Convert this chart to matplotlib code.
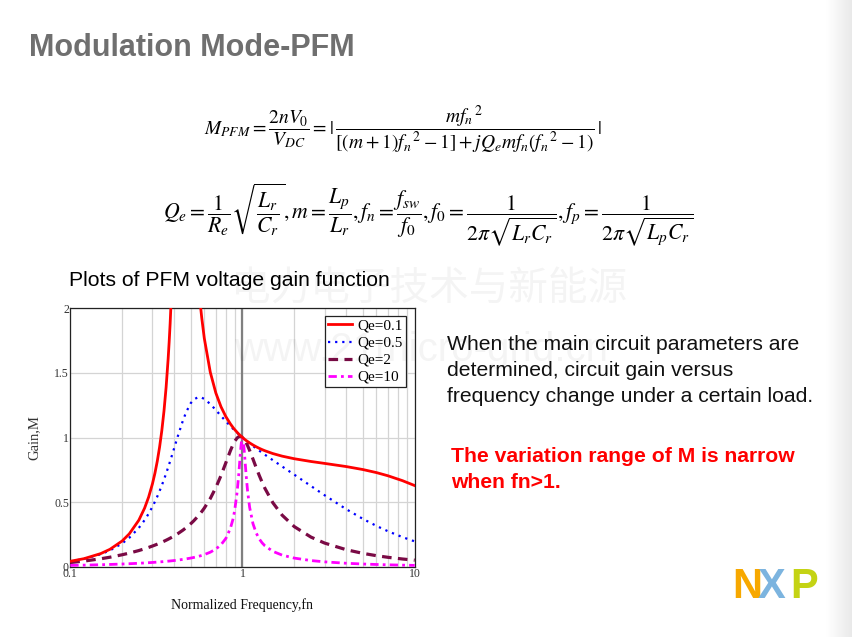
import matplotlib
matplotlib.use("Agg")
import matplotlib.pyplot as plt
import numpy as np
from matplotlib.ticker import FixedLocator, NullFormatter, LogLocator

plt.rcParams["mathtext.fontset"] = "stix"

# normalized frequency grid
FN = [0.1, 0.12, 0.15, 0.17, 0.2, 0.22, 0.25, 0.27, 0.285, 0.3, 0.31,
      0.32, 0.33, 0.34, 0.35, 0.36, 0.37, 0.375, 0.38, 0.39, 0.4, 0.42,
      0.45, 0.47, 0.5, 0.52, 0.55, 0.57, 0.58, 0.6, 0.65, 0.7, 0.75,
      0.8, 0.85, 0.88, 0.9, 0.93, 0.95, 0.96, 0.97, 0.98, 0.99, 1.0,
      1.01, 1.02, 1.03, 1.05, 1.07, 1.1, 1.15, 1.2, 1.25, 1.3, 1.35,
      1.5, 1.7, 2, 2.5, 3, 4, 5, 6, 7, 8.5, 10]

GAIN_Q01 = [0.042, 0.062, 0.1012, 0.1347, 0.199, 0.2539, 0.360, 0.4532, 0.5388, 0.642, 0.7233,
            0.8170, 0.926, 1.0538, 1.205, 1.3874, 1.609, 1.738, 1.882, 2.22, 2.656, 3.88,
            5.6, 4.91, 3.43, 2.822, 2.26, 2.02, 1.925, 1.768, 1.5055, 1.345, 1.2381,
            1.162, 1.1058, 1.0781, 1.062, 1.0405, 1.0272, 1.0217, 1.0159, 1.0104, 1.0051, 1.0,
            0.9951, 0.9904, 0.9858, 0.9768, 0.9692, 0.9582, 0.9422, 0.9285, 0.9166, 0.9063, 0.8973,
            0.8757, 0.8556, 0.8355, 0.8143, 0.7994, 0.7751, 0.752, 0.7283, 0.7036, 0.6657, 0.6279]
GAIN_Q05 = [0.0412, 0.0601, 0.0963, 0.1261, 0.180, 0.2236, 0.300, 0.3604, 0.4103, 0.4645, 0.5030,
            0.5434, 0.5856, 0.6294, 0.6747, 0.7212, 0.7688, 0.7927, 0.8168, 0.865, 0.9128, 1.0054,
            1.128, 1.1944, 1.265, 1.2931, 1.311, 1.311, 1.3083, 1.2985, 1.259, 1.2127, 1.1672,
            1.1257, 1.0886, 1.0684, 1.0557, 1.0377, 1.0263, 1.0208, 1.0155, 1.0102, 1.0050, 1.0,
            0.9950, 0.9902, 0.9854, 0.9762, 0.9673, 0.9544, 0.9344, 0.9158, 0.8985, 0.8822, 0.8667,
            0.8246, 0.7755, 0.712, 0.6242, 0.5529, 0.4455, 0.3702, 0.3154, 0.2742, 0.2287, 0.1959]
GAIN_Q2 = [0.0323, 0.0435, 0.0612, 0.0735, 0.0924, 0.1053, 0.125, 0.1388, 0.1492, 0.160, 0.1671,
           0.1744, 0.1818, 0.1893, 0.197, 0.2048, 0.2127, 0.2168, 0.2208, 0.229, 0.2374, 0.2548,
           0.2821, 0.3014, 0.3322, 0.3540, 0.389, 0.4138, 0.4266, 0.4536, 0.5277, 0.612, 0.7053,
           0.8036, 0.8968, 0.9439, 0.9693, 0.9961, 1.0056, 1.0078, 1.0083, 1.0071, 1.0043, 1.0,
           0.9943, 0.9874, 0.9792, 0.96, 0.9376, 0.9, 0.8333, 0.7678, 0.7074, 0.6535, 0.606,
           0.4954, 0.3985, 0.3099, 0.2288, 0.1828, 0.1316, 0.1033, 0.0852, 0.0726, 0.0595, 0.0504]
GAIN_Q10 = [0.0098, 0.01195, 0.0152, 0.01736, 0.0207, 0.02303, 0.0266, 0.02906, 0.03097, 0.0329, 0.03426,
            0.03562, 0.037, 0.03842, 0.0399, 0.04134, 0.0429, 0.04362, 0.0444, 0.046, 0.0476, 0.051,
            0.0564, 0.06032, 0.0667, 0.07125, 0.0788, 0.0844, 0.0873, 0.0936, 0.1122, 0.1366, 0.1698,
            0.2183, 0.2952, 0.3668, 0.4326, 0.5741, 0.7071, 0.7845, 0.8638, 0.9355, 0.9852, 1.0,
            0.9761, 0.922, 0.8517, 0.7071, 0.5874, 0.4596, 0.3335, 0.2617, 0.2160, 0.1845, 0.1615,
            0.1189, 0.0895, 0.0665, 0.0475, 0.0375, 0.0267, 0.0208, 0.0171, 0.0146, 0.0119, 0.0101]

LABELS = ["Qe=0.1", "Qe=0.5", "Qe=2", "Qe=10"]
Y_TICKS = [0, 0.5, 1, 1.5, 2]
Y_TICK_LABELS = ["0", "0.5", "1", "1.5", "2"]
X_TICKS = [0.1, 1, 10]
X_TICK_LABELS = ["0.1", "1", "10"]

W, H = 853, 637
fig = plt.figure(figsize=(W / 100, H / 100), dpi=100)

# faint grey gradient on the right edge of the slide
bg = fig.add_axes([826 / W, 0, 27 / W, 1])
grad = np.linspace(1.0, 0.91, 64)[None, :]
bg.imshow(np.repeat(grad, 8, axis=0), cmap="gray", vmin=0, vmax=1,
          aspect="auto", extent=[0, 1, 0, 1])
bg.set_axis_off()


def px(x, y):
    return x / W, 1 - y / H


sans = "Liberation Sans"
serif = "Liberation Serif"

fig.text(*px(29, 48), "Modulation Mode-PFM", family=sans, weight="bold",
         fontsize=22, color="#6f6f6f", va="center", ha="left")

fig.text(*px(403, 130),
         r"$M_{PFM}=\dfrac{2nV_0}{V_{DC}}=|\,\dfrac{m{f_n}^{\,2}}"
         r"{[(m+1){f_n}^{\,2}-1]+jQ_e m f_n({f_n}^{\,2}-1)}\,|$",
         fontsize=14, ha="center", va="center", color="black")
fig.text(*px(428, 215),
         r"$Q_e=\dfrac{1}{R_e}\sqrt{\dfrac{L_r}{C_r}},m=\dfrac{L_p}{L_r},"
         r"f_n=\dfrac{f_{sw}}{f_0},f_0=\dfrac{1}{2\pi\sqrt{L_rC_r}},"
         r"f_p=\dfrac{1}{2\pi\sqrt{L_pC_r}}$",
         fontsize=15.7, ha="center", va="center", color="black")

fig.text(*px(69, 281), "Plots of PFM voltage gain function", family=sans,
         fontsize=15.2, ha="left", va="center", color="black")

for i, line in enumerate(["When the main circuit parameters are",
                          "determined, circuit gain versus",
                          "frequency change under a certain load."]):
    fig.text(*px(447, 345 + i * 25.5), line, family=sans, fontsize=15.2,
             ha="left", va="center", color="#111111")
for i, line in enumerate(["The variation range of M is narrow", "when fn>1."]):
    fig.text(*px(451, 457 + i * 25.5), line, family=sans, fontsize=15.2,
             weight="bold", ha="left", va="center", color="#ff0000")

# NXP logo letters
for x, letter, color in [(732, "N", "#f7a800"), (758, "X", "#7cb4df"),
                         (790, "P", "#c4d314")]:
    fig.text(*px(x, 587), letter, family=sans, weight="bold", fontsize=30,
             color=color, ha="left", va="center")

ax = fig.add_axes([70.3 / W, 1 - 566.7 / H, 344.4 / W, 258.4 / H])
ax.set_xscale("log")
ax.set_xlim(0.1, 10)
ax.set_ylim(0, 2)

ax.plot(FN, GAIN_Q01, color="#ff0000", lw=2.0, label=LABELS[0], zorder=4)
ax.plot(FN, GAIN_Q05, color="#0000ff", lw=1.6, ls=(0, (1, 2.2)), label=LABELS[1], zorder=3)
ax.plot(FN, GAIN_Q2, color="#7a0a45", lw=2.3, ls=(0, (3, 2)), label=LABELS[2], zorder=3)
ax.plot(FN, GAIN_Q10, color="#ff00ff", lw=2.0, ls=(0, (3, 1.5, 1, 1.5)), label=LABELS[3], zorder=3)

ax.axvline(1, color="#808080", lw=1.6, zorder=2)

ax.xaxis.set_major_locator(FixedLocator(X_TICKS))
ax.xaxis.set_minor_locator(LogLocator(base=10, subs=np.arange(2, 10)))
ax.xaxis.set_minor_formatter(NullFormatter())
ax.set_xticklabels(X_TICK_LABELS)
ax.set_yticks(Y_TICKS)
ax.set_yticklabels(Y_TICK_LABELS)
ax.grid(True, which="both", axis="x", color="#d4d4d4", lw=0.9)
ax.grid(True, which="major", axis="y", color="#d4d4d4", lw=0.9)
ax.tick_params(which="both", length=0, labelsize=8.5, labelcolor="#333333", pad=1)
for lab in ax.get_xticklabels() + ax.get_yticklabels():
    lab.set_family(serif)
for s in ax.spines.values():
    s.set_color("#222222")
    s.set_linewidth(0.9)

ax.set_ylabel("Gain,M", family=serif, fontsize=10.5, color="#333333", labelpad=10)
ax.set_xlabel("Normalized Frequency,fn", family=serif, fontsize=10,
              color="#111111", labelpad=13)

leg = ax.legend(loc="upper right", bbox_to_anchor=(0.975, 0.97), fancybox=False,
                framealpha=1, edgecolor="#222222", prop={"family": serif, "size": 11},
                handlelength=1.6, handletextpad=0.35, borderpad=0.2,
                labelspacing=0.22, borderaxespad=0)
leg.get_frame().set_linewidth(0.9)

# faint watermark over the slide
fig.text(*px(429, 290), "电力电子技术与新能源", family=["Noto Sans CJK SC", "DejaVu Sans"],
         fontsize=28.5, color="black", alpha=0.045, ha="center", va="center")
fig.text(*px(421, 350), "www.21micro-grid.cn", family=sans,
         fontsize=29, color="black", alpha=0.045, ha="center", va="center")

fig.savefig("out.png", dpi=100)
